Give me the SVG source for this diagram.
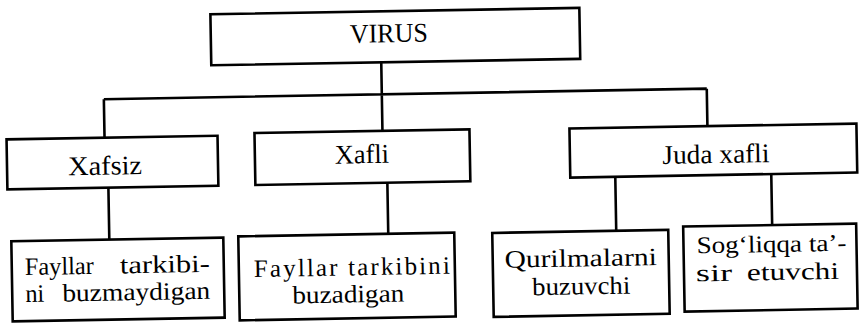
<svg xmlns="http://www.w3.org/2000/svg" width="860" height="324" viewBox="0 0 860 324">
<style>
.box{fill:#fff;stroke:#000;stroke-width:2.6}
.ln{fill:none;stroke:#000;stroke-width:2.6}
text{font-family:'Liberation Serif',serif;font-size:27px;fill:#000}
.s{font-size:25px}
.t{font-size:24px}
.m{text-anchor:middle}
.e{text-anchor:end}
</style>
<rect width="860" height="324" fill="#fff"/>
<g transform="rotate(-1 430 162)" font-family="Liberation Serif, serif">
<g id="connectors">
<path class="ln" d="M383 61V93.5M105 93.5H708M105 93.5V132M383 93.5V130M708 93.5V131M108 182V234M387 182V233M615 180V234M771 180V231"/>
</g>
<g id="virus">
<rect class="box" x="213" y="10.5" width="369" height="51"/>
<text x="391" y="41.5" class="m" textLength="78" lengthAdjust="spacingAndGlyphs">VIRUS</text>
</g>
<g id="xafsiz">
<rect class="box" x="7" y="132" width="211" height="50"/>
<text x="105" y="169" class="m" textLength="74" lengthAdjust="spacingAndGlyphs">Xafsiz</text>
</g>
<g id="xafli">
<rect class="box" x="255" y="130" width="215" height="52"/>
<text x="362" y="162" class="m" textLength="54" lengthAdjust="spacingAndGlyphs">Xafli</text>
</g>
<g id="juda">
<rect class="box" x="570" y="131" width="287" height="49"/>
<text x="716" y="168" class="m" textLength="107" lengthAdjust="spacingAndGlyphs">Juda xafli</text>
</g>
<g id="fayl1">
<rect class="box" x="10" y="234" width="212" height="80"/>
<text class="s" x="23" y="268" textLength="69" lengthAdjust="spacingAndGlyphs">Fayllar</text>
<text class="s" x="118" y="268" textLength="90" lengthAdjust="spacingAndGlyphs">tarkibi-</text>
<text class="s" x="23" y="295" textLength="19" lengthAdjust="spacingAndGlyphs">ni</text>
<text class="s" x="60" y="295" textLength="148" lengthAdjust="spacingAndGlyphs">buzmaydigan</text>
</g>
<g id="fayl2">
<rect class="box" x="237" y="233" width="216" height="84"/>
<text class="s" x="252" y="274" textLength="196" lengthAdjust="spacing">Fayllar tarkibini</text>
<text class="s m" x="346" y="301" textLength="112" lengthAdjust="spacingAndGlyphs">buzadigan</text>
</g>
<g id="qurilma">
<rect class="box" x="491" y="234" width="176" height="84"/>
<text class="s m" x="579" y="269" textLength="152" lengthAdjust="spacingAndGlyphs">Qurilmalarni</text>
<text class="s m" x="579" y="297" textLength="98" lengthAdjust="spacingAndGlyphs">buzuvchi</text>
</g>
<g id="soglik">
<rect class="box" x="682" y="231" width="173" height="85"/>
<text class="t" x="695" y="258" textLength="150" lengthAdjust="spacingAndGlyphs">Sog‘liqqa ta’-</text>
<text class="t" x="694" y="286" textLength="36" lengthAdjust="spacingAndGlyphs">sir</text>
<text class="t e" x="837" y="286" textLength="92" lengthAdjust="spacingAndGlyphs">etuvchi</text>
</g>
</g>
</svg>
